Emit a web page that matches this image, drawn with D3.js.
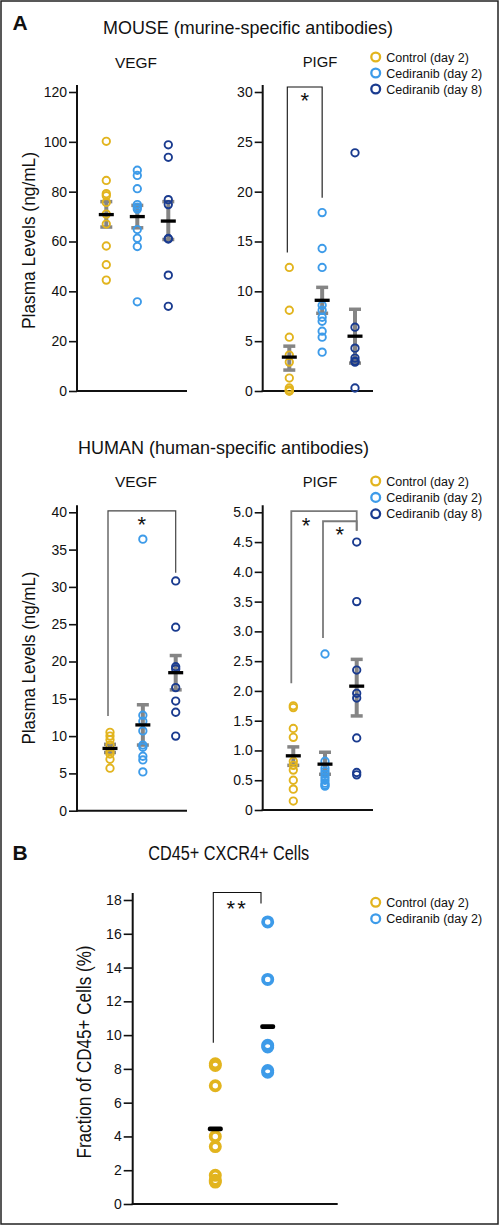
<!DOCTYPE html>
<html><head><meta charset="utf-8">
<script src="https://cdn.jsdelivr.net/npm/d3@7"></script>
<style>
body{margin:0;background:#fff}
svg{display:block}
text{font-family:"Liberation Sans",Arial,Helvetica,sans-serif;fill:#111}
</style>
</head><body>
<svg id="c" width="500" height="1226"></svg>
<script>
// ---------- DATA ----------
const groups3 = ["Control (day 2)", "Cediranib (day 2)", "Cediranib (day 8)"];
const groups2 = ["Control (day 2)", "Cediranib (day 2)"];
const groupColors = ["#e2b41e", "#3d9be9", "#1a3b8f"];

// Mouse VEGF (ng/mL)
const mouseVegfTicks = [0, 20, 40, 60, 80, 100, 120];
const mouseVegfControl = [100.2, 84.5, 79.2, 78.4, 75.7, 71, 67, 58.2, 50.7, 44.5];
const mouseVegfCed2 = [88.6, 86.5, 81.2, 74.8, 73.8, 73, 64.8, 61.3, 58, 35.8];
const mouseVegfCed8 = [98.8, 93.8, 76.8, 74.8, 61.2, 61, 46.5, 34];
const mouseVegfMean = [70.8, 70, 68.2];
const mouseVegfSem = [[65.8, 76], [65.5, 74.5], [60.8, 76]];

// Mouse PlGF (ng/mL)
const mousePlgfTicks = [0, 5, 10, 15, 20, 25, 30];
const mousePlgfControl = [12.4, 8.1, 5.4, 3.6, 2.9, 1.3, 0.3, 0.1, 0, 0];
const mousePlgfCed2 = [17.9, 14.3, 12.4, 8.6, 8.1, 7.4, 7.0, 6.0, 5.4, 3.9];
const mousePlgfCed8 = [23.9, 6.4, 4.3, 3.3, 3.0, 2.9, 0.3];
const mousePlgfMean = [3.4, 9.1, 5.5];
const mousePlgfSem = [[2.1, 4.5], [7.8, 10.4], [2.8, 8.2]];

// Human VEGF (ng/mL)
const humanVegfTicks = [0, 5, 10, 15, 20, 25, 30, 35, 40];
const humanVegfControl = [10.5, 10.0, 9.5, 8.8, 8.0, 7.6, 6.9, 5.7];
const humanVegfCed2 = [36.4, 12.8, 12.0, 10.7, 8.8, 8.5, 7.3, 6.8, 5.2];
const humanVegfCed8 = [30.8, 24.6, 19.3, 19.0, 16.5, 14.7, 13.2, 10.0];
const humanVegfMean = [8.35, 11.5, 18.5];
const humanVegfSem = [[7.8, 8.9], [8.8, 14.2], [16.2, 20.8]];

// Human PlGF (ng/mL)
const humanPlgfTicks = [0, 0.5, 1, 1.5, 2, 2.5, 3, 3.5, 4, 4.5, 5];
const humanPlgfControl = [1.75, 1.72, 1.37, 1.22, 0.82, 0.75, 0.67, 0.5, 0.35, 0.15];
const humanPlgfCed2 = [2.62, 0.82, 0.7, 0.65, 0.6, 0.55, 0.5, 0.45, 0.42, 0.4];
const humanPlgfCed8 = [4.5, 3.5, 2.35, 1.96, 1.88, 1.21, 0.63, 0.59];
const humanPlgfMean = [0.91, 0.77, 2.08];
const humanPlgfSem = [[0.75, 1.06], [0.6, 0.97], [1.58, 2.53]];

// B: CD45+ CXCR4+ cells (% of CD45+)
const cellTicks = [0, 2, 4, 6, 8, 10, 12, 14, 16, 18];
const cellControl = [8.3, 8.2, 7.0, 4.0, 3.4, 1.7, 1.4, 1.3];
const cellCed2 = [16.7, 13.3, 9.4, 9.3, 7.9, 7.8];
const cellMean = [4.45, 10.5];

// ---------- DRAWING ----------
const FONT = '"Liberation Sans",Arial,Helvetica,sans-serif';
const svg = d3.select("#c");

svg.append("rect").attr("x", 1).attr("y", 1).attr("width", 497).attr("height", 1223)
  .attr("fill", "none").attr("stroke", "#222").attr("stroke-width", 1.5);

function label(x, y, s, o = {}) {
  const t = svg.append("text").attr("x", x).attr("y", y).text(s)
    .attr("font-size", o.fs || 14)
    .attr("text-anchor", o.anchor || "start");
  if (o.bold) t.attr("font-weight", "bold");
  if (o.len) t.attr("textLength", o.len).attr("lengthAdjust", "spacingAndGlyphs");
  if (o.rot) t.attr("transform", `rotate(-90,${x},${y})`);
  if (o.fill) t.attr("fill", o.fill);
  if (o.ls) t.attr("letter-spacing", o.ls);
  return t;
}

function panel(p) {
  const y = d3.scaleLinear().domain([0, p.max]).range([p.y0, p.yTop]);
  const x = d3.scalePoint().domain(d3.range(p.series.length)).range(p.xr);

  const g = svg.append("g").attr("transform", `translate(${p.ax},0)`);
  g.call(d3.axisLeft(y).tickValues(p.ticks).tickFormat(p.fmt || d3.format("d"))
    .tickSize(p.ts || 8).tickPadding(p.tp || 2).tickSizeOuter(0));
  g.attr("font-family", FONT).attr("font-size", 14);
  g.select(".domain").remove();
  g.selectAll(".tick line").attr("stroke", "#111").attr("stroke-width", 1.6);
  g.selectAll(".tick text").attr("fill", "#111");
  g.append("line").attr("x1", 0).attr("x2", 0).attr("y1", p.y0 + 1).attr("y2", p.yTop - 7)
    .attr("stroke", "#111").attr("stroke-width", 2);
  svg.append("line").attr("x1", p.ax - 1).attr("x2", p.bx).attr("y1", p.y0).attr("y2", p.y0)
    .attr("stroke", "#111").attr("stroke-width", 2);

  // error bars
  if (p.sems) {
    const eg = svg.append("g").attr("stroke", "#858585");
    p.sems.forEach((s, i) => {
      const cx = x(i);
      eg.append("line").attr("x1", cx).attr("x2", cx).attr("y1", y(s[0])).attr("y2", y(s[1]))
        .attr("stroke-width", 4);
      [s[0], s[1]].forEach(v => eg.append("line").attr("x1", cx - 6).attr("x2", cx + 6)
        .attr("y1", y(v)).attr("y2", y(v)).attr("stroke-width", 3.5));
    });
  }

  // points
  p.series.forEach((vals, i) => {
    svg.append("g").selectAll("circle").data(vals).join("circle")
      .attr("cx", x(i)).attr("cy", d => y(d)).attr("r", p.r || 3.7)
      .attr("fill", "none").attr("stroke", groupColors[i]).attr("stroke-width", p.sw || 1.9);
  });

  // means
  const mh = p.mh || 3.3;
  svg.append("g").selectAll("rect").data(p.means).join("rect")
    .attr("x", (d, i) => x(i) - 7.5).attr("y", d => y(d) - mh / 2)
    .attr("width", 15).attr("height", mh).attr("rx", p.mrx || 0)
    .attr("fill", "#000");

  // significance brackets
  (p.brackets || []).forEach(b => {
    const xa = x(b.a) - 2, xb = x(b.b) + (b.bOff || 0);
    svg.append("path")
      .attr("d", `M${xa},${y(b.la)}V${y(b.top)}H${xb}V${y(b.lb)}`)
      .attr("fill", "none").attr("stroke", b.color).attr("stroke-width", b.w);
    const sx = b.sx != null ? b.sx(x) : (xa + xb) / 2;
    const fs = 22;
    label(sx, y(b.top) + b.sy + 0.57 * fs, b.star, { fs, anchor: "middle", ls: b.star.length > 1 ? 2 : null });
  });
}

function legend(x0, y0, names, gap) {
  names.forEach((n, i) => {
    svg.append("circle").attr("cx", x0).attr("cy", y0 + i * gap).attr("r", 4.4)
      .attr("fill", "none").attr("stroke", groupColors[i]).attr("stroke-width", 2.3);
    label(x0 + 10.5, y0 + i * gap + 4.6, n, { fs: 12.5 });
  });
}

// ----- Panel A -----
label(12.5, 30, "A", { fs: 21, bold: true });
label(248, 34.3, "MOUSE (murine-specific antibodies)", { fs: 19, anchor: "middle", len: 290 });
label(136, 67.5, "VEGF", { fs: 15, anchor: "middle", len: 42 });
label(320, 67, "PIGF", { fs: 15, anchor: "middle", len: 34.6 });
label(35, 240.5, "Plasma Levels (ng/mL)", { fs: 19, anchor: "middle", len: 177, rot: true });
legend(375.7, 57, groups3, 16);

panel({
  ax: 77, bx: 187, y0: 391, yTop: 92, max: 120, xr: [106.3, 168.3],
  ticks: mouseVegfTicks,
  series: [mouseVegfControl, mouseVegfCed2, mouseVegfCed8],
  means: mouseVegfMean, sems: mouseVegfSem
});
panel({
  ax: 262.7, bx: 373, y0: 391, yTop: 92, max: 30, xr: [289.3, 355],
  ticks: mousePlgfTicks,
  series: [mousePlgfControl, mousePlgfCed2, mousePlgfCed8],
  means: mousePlgfMean, sems: mousePlgfSem,
  brackets: [{ a: 0, b: 1, top: 30.5, la: 13.9, lb: 19.4, color: "#111", w: 1.1, star: "*", sy: 8.5 }]
});

label(223.5, 454, "HUMAN (human-specific antibodies)", { fs: 19, anchor: "middle", len: 291 });
label(136, 487.3, "VEGF", { fs: 15, anchor: "middle", len: 42 });
label(320, 487.3, "PIGF", { fs: 15, anchor: "middle", len: 34.6 });
label(35, 658, "Plasma Levels (ng/mL)", { fs: 19, anchor: "middle", len: 173, rot: true });
legend(375.7, 481, groups3, 16.4);

panel({
  ax: 77, bx: 187, y0: 810.7, yTop: 512.3, max: 40, xr: [110, 175.7],
  ticks: humanVegfTicks,
  series: [humanVegfControl, humanVegfCed2, humanVegfCed8],
  means: humanVegfMean, sems: humanVegfSem,
  brackets: [{ a: 0, b: 2, top: 40.2, la: 12.7, lb: 31.9, color: "#444", w: 1.2, star: "*", sy: 8.8 }]
});
panel({
  ax: 262.7, bx: 373, y0: 810, yTop: 512.3, max: 5, xr: [293.3, 356.7],
  ticks: humanPlgfTicks, fmt: d => d === 0 ? "0" : d3.format(".1f")(d),
  series: [humanPlgfControl, humanPlgfCed2, humanPlgfCed8],
  means: humanPlgfMean, sems: humanPlgfSem,
  brackets: [
    { a: 0, b: 2, top: 5.02, la: 2.13, lb: 4.69, color: "#7a7a7a", w: 1.8, star: "*", sy: 9.3,
      sx: x => (x(0) + x(1)) / 2 - 3 },
    { a: 1, b: 2, top: 4.85, la: 2.89, lb: 4.69, color: "#7a7a7a", w: 1.8, star: "*", sy: 8.7 }
  ]
});

// ----- Panel B -----
label(12.5, 860, "B", { fs: 21, bold: true });
label(228.7, 860, "CD45+ CXCR4+ Cells", { fs: 20, anchor: "middle", len: 161 });
label(90.7, 1052, "Fraction of CD45+ Cells (%)", { fs: 20, anchor: "middle", len: 213, rot: true });
legend(375.7, 902.3, groups2, 16.4);

panel({
  ax: 132.7, bx: 337.7, y0: 1204, yTop: 900, max: 18, xr: [215.3, 267.7],
  ticks: cellTicks, ts: 9, tp: 2,
  series: [cellControl, cellCed2], r: 4.6, sw: 3.8,
  means: cellMean, mh: 4.7, mrx: 2,
  brackets: [{ a: 0, b: 1, top: 18.44, la: 9.55, lb: 17.8, bOff: -6.7, color: "#111", w: 1.1, star: "**", sy: 11 }]
});
</script>
</body></html>
